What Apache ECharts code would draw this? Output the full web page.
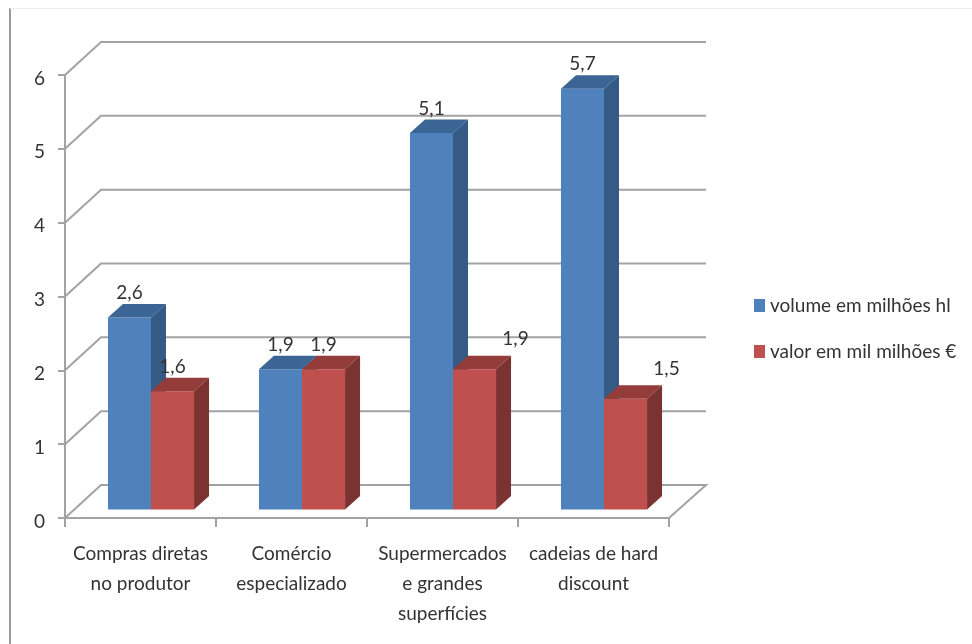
<!DOCTYPE html>
<html>
<head>
<meta charset="utf-8">
<style>html,body{margin:0;padding:0;background:#fff}#chart{width:972px;height:644px}</style>
<script src="https://cdn.jsdelivr.net/npm/echarts@6/dist/echarts.min.js"></script>
</head>
<body>
<div id="chart"></div>
<script>
const categories = ['Compras diretas\nno produtor', 'Comércio\nespecializado', 'Supermercados\ne grandes\nsuperfícies', 'cadeias de hard\ndiscount'];
const volumeName = 'volume em milhões hl';
const valueName = 'valor em mil milhões €';
const volumeValues = [2.6, 1.9, 5.1, 5.7];
const valueValues = [1.6, 1.9, 1.9, 1.5];
const gridTicks = [0, 1, 2, 3, 4, 5, 6];

const FONT = 'Lato, "Open Sans", sans-serif';
const TEXT = '#333333';
const GRID = '#a3a3a3';

// Wall and floor depth of the pseudo-3D plot box
const WALL_DX = 36, WALL_DY = -33;
// Each bar stands a little inside the floor and has its own depth
const FLOOR_INSET = -8.5, BAR_DX = 15, BAR_DY = -13.5;
const BAR_SHIFT = 10.5, BAR_RATIO = 0.285;

function wallLine(params, api) {
  const v = api.value(0);
  const left = api.coord([0, v]);
  const size = api.size([1, 0]);
  const x0 = left[0] - size[0] / 2;
  const xEnd = x0 + size[0] * categories.length;
  const y = left[1];
  const points = v === 0
    ? [[x0, y], [x0 + WALL_DX, y + WALL_DY], [xEnd + WALL_DX + 1, y + WALL_DY], [xEnd, y]]
    : [[x0, y], [x0 + WALL_DX, y + WALL_DY], [xEnd + WALL_DX + 1, y + WALL_DY]];
  return {
    type: 'polyline',
    shape: { points: points },
    style: { stroke: GRID, lineWidth: 2, fill: null }
  };
}

function barRenderer(side, front, topColor, sideColor) {
  return function (params, api) {
    const i = api.value(0), v = api.value(1);
    const top = api.coord([i, v]);
    const base = api.coord([i, 0]);
    const w = api.size([1, 0])[0] * BAR_RATIO;
    const x = top[0] + BAR_SHIFT + (side === 0 ? -w : 0);
    const yT = top[1] + FLOOR_INSET, yB = base[1] + FLOOR_INSET;
    // Two labels of the second series sit beside their bars, clear of the taller neighbour
    const moved = side === 1 && i >= 2;
    const lx = x + w / 2 + (moved ? 41 : 0);
    const ly = yT - (moved ? 30 : 24.5);
    return {
      type: 'group',
      children: [
        { type: 'rect', shape: { x: x, y: yT, width: w, height: yB - yT }, style: { fill: front } },
        { type: 'polygon', shape: { points: [[x, yT], [x + BAR_DX, yT + BAR_DY], [x + w + BAR_DX, yT + BAR_DY], [x + w, yT]] }, style: { fill: topColor } },
        { type: 'polygon', shape: { points: [[x + w, yT], [x + w + BAR_DX, yT + BAR_DY], [x + w + BAR_DX, yB + BAR_DY], [x + w, yB]] }, style: { fill: sideColor } },
        { type: 'text', x: lx, y: ly, style: { text: String(v).replace('.', ','), fill: TEXT, font: '19px ' + FONT, align: 'center', verticalAlign: 'middle' } }
      ]
    };
  };
}

const chart = echarts.init(document.getElementById('chart'));
chart.setOption({
  animation: false,
  backgroundColor: '#fff',
  graphic: [
    { type: 'line', silent: true, shape: { x1: 10, y1: 8, x2: 10, y2: 644 }, style: { stroke: '#9a9a9a', lineWidth: 2 } },
    { type: 'line', silent: true, shape: { x1: 10, y1: 8.5, x2: 972, y2: 8.5 }, style: { stroke: '#eeeeee', lineWidth: 1 } }
  ],
  grid: { left: 65, right: 303, top: 75, bottom: 126, containLabel: false },
  legend: {
    orient: 'vertical', left: 749, top: 291, itemWidth: 11, itemHeight: 13, itemGap: 27,
    icon: 'rect', selectedMode: false,
    data: [volumeName, valueName],
    textStyle: { fontFamily: FONT, fontSize: 19, color: TEXT }
  },
  xAxis: {
    type: 'category', data: categories,
    axisLine: { lineStyle: { color: GRID, width: 2 } },
    axisTick: { show: true, length: 9, lineStyle: { color: GRID, width: 2 } },
    axisLabel: { fontFamily: FONT, fontSize: 19, color: TEXT, lineHeight: 30, margin: 21, interval: 0 }
  },
  yAxis: {
    type: 'value', min: 0, max: 6, interval: 1,
    axisLine: { show: true, lineStyle: { color: GRID, width: 2 } },
    axisTick: { show: true, length: 7, lineStyle: { color: GRID, width: 2 } },
    axisLabel: {
      margin: 20, formatter: '{n|{value}}',
      // Numerals sit slightly below their tick marks
      rich: { n: { fontFamily: FONT, fontSize: 19, color: TEXT, padding: [7, 0, 0, 0] } }
    },
    splitLine: { show: false }
  },
  series: [
    { type: 'custom', name: 'wall', silent: true, clip: false, z: 1, data: gridTicks.map(t => [t]), renderItem: wallLine, encode: { y: 0 } },
    { type: 'custom', name: volumeName, clip: false, z: 2, itemStyle: { color: '#4F81BD' },
      data: volumeValues.map((v, i) => [i, v]), encode: { x: 0, y: 1 },
      renderItem: barRenderer(0, '#4F81BD', '#3B6594', '#355A85') },
    { type: 'custom', name: valueName, clip: false, z: 3, itemStyle: { color: '#C0504D' },
      data: valueValues.map((v, i) => [i, v]), encode: { x: 0, y: 1 },
      renderItem: barRenderer(1, '#C0504D', '#943C3A', '#7B3331') }
  ]
});
</script>
</body>
</html>
